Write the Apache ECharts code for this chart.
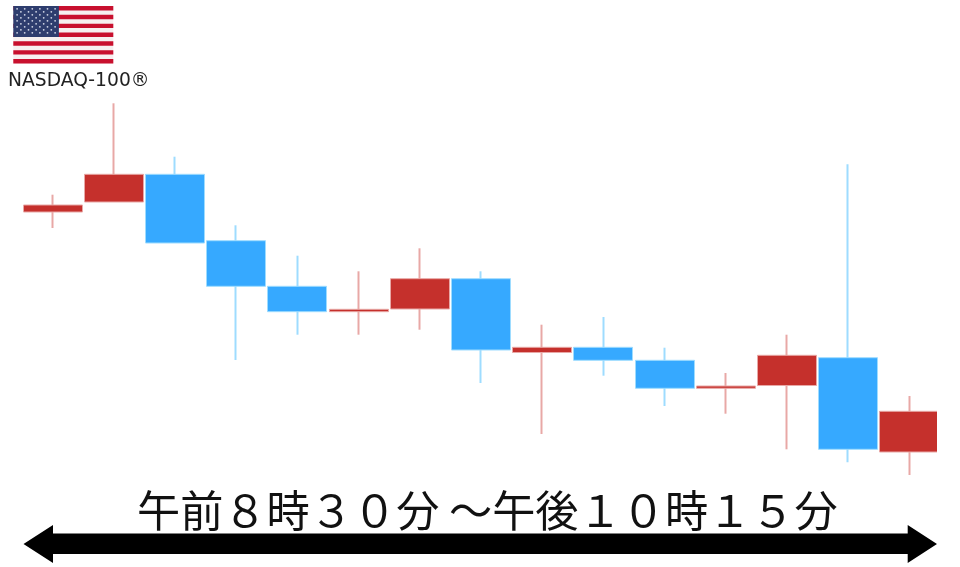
<!DOCTYPE html>
<html><head><meta charset="utf-8">
<style>html,body{margin:0;padding:0;background:#fff}#c{width:960px;height:567px}</style>
<script src="https://cdn.jsdelivr.net/npm/echarts@6/dist/echarts.min.js"></script>
</head><body><div id="c"></div>
<script>
const categories = ['1','2','3','4','5','6','7','8','9','10','11','12','13','14','15'];
const opens  = [355,365,392.7,326.3,280.7,255.3,258,288.3,214.5,219.7,206.7,178.7,181.5,209.3,115];
const closes = [362,392.7,324,280.7,255.3,257.7,288.3,217,219.7,206.7,178.7,181,211.7,117.7,155.7];
const lows   = [339,365,324,207,232.3,232.3,237.3,184,133,191.3,161,153.3,117.7,104.7,92];
const highs  = [372.3,463.7,410.3,341.7,311.3,295.7,318.7,295.7,242.3,250,219.3,194,232.3,402.7,171];
const labelTop = 'NASDAQ-100®';
const labelRange = '午前８時３０分 ～午後１０時１５分';

const flag = [];
const fx = 13.3, fy = 6, fw = 100, fh = 57.4, sh = fh / 13;
flag.push({type:'rect',shape:{x:fx,y:fy,width:fw,height:fh},style:{fill:'#f6f0f0'}});
for (let i = 0; i < 13; i += 2) flag.push({type:'rect',shape:{x:fx,y:fy+i*sh,width:fw,height:sh},style:{fill:'#c8102e'}});
flag.push({type:'rect',shape:{x:fx,y:fy,width:45.6,height:sh*7},style:{fill:'#2e3d6e'}});
for (let r = 0; r < 9; r++) {
  const n = r % 2 ? 5 : 6;
  for (let k = 0; k < n; k++) flag.push({type:'circle',shape:{cx:fx+3.8+(r%2?3.8:0)+k*7.6,cy:fy+2.8+r*3,r:0.9},style:{fill:'#d4d9e8'}});
}

const chart = echarts.init(document.getElementById('c'), null, {renderer:'canvas'});
chart.setOption({
  animation:false,
  backgroundColor:'#ffffff',
  grid:{left:22,width:918,top:0,height:567},
  xAxis:{type:'category',data:categories,show:false,boundaryGap:true},
  yAxis:{type:'value',min:0,max:567,show:false,splitLine:{show:false}},
  series:[{
    name:'wicks',
    type:'candlestick',
    barWidth:1,
    z:2,
    data:categories.map((_,i)=>[opens[i],closes[i],lows[i],highs[i]]),
    itemStyle:{color:'#e8a8a6',color0:'#9edcff',borderColor:'#e8a8a6',borderColor0:'#9edcff',borderWidth:2}
  },{
    name:'bodies',
    type:'candlestick',
    barWidth:59.5,
    z:3,
    data:categories.map((_,i)=>[opens[i],closes[i],Math.min(opens[i],closes[i]),Math.max(opens[i],closes[i])]),
    itemStyle:{color:'#c5302c',color0:'#36a9ff',borderColor:'#e8a8a6',borderColor0:'#9edcff',borderWidth:1}
  }],
  graphic:{elements:[
    {type:'rect',z:50,shape:{x:937,y:380,width:10,height:100},style:{fill:'#fff'}},
    {type:'group',z:60,children:flag},
    {type:'text',z:60,left:8,top:72,style:{text:labelTop,font:'18.7px "DejaVu Sans"',fill:'#222'}},
    {type:'text',z:60,left:137,top:489,style:{text:labelRange,font:'43.2px "Noto Sans CJK JP"',fill:'#111'}},
    {type:'polygon',z:60,shape:{points:[[23.5,544],[53,525],[53,533.5],[907.7,533.5],[907.7,525],[937,544],[907.7,563],[907.7,554],[53,554],[53,563]]},style:{fill:'#000'}}
  ]}
});
</script></body></html>
